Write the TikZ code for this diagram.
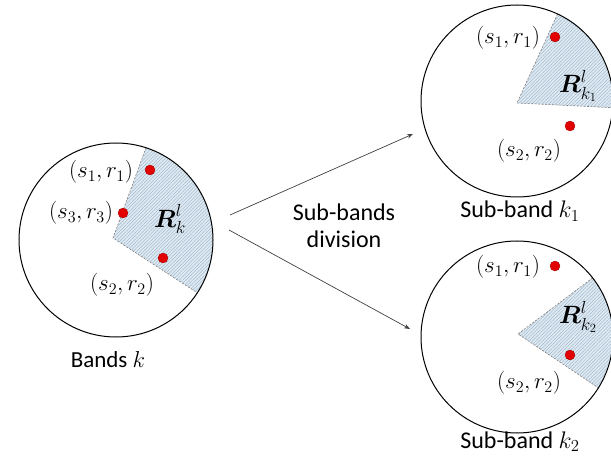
\RequirePackage{fix-cm}
\documentclass[tikz,border=0pt]{standalone}
\usepackage{amsmath}
\usepackage{fontspec}
\setmainfont{Carlito}
\usetikzlibrary{arrows.meta,patterns.meta,calc}
\definecolor{hatchbg}{RGB}{222,234,243}
\definecolor{hatchln}{RGB}{150,172,194}
\definecolor{dotred}{RGB}{226,0,0}
\definecolor{dotrim}{RGB}{150,0,0}
\begin{document}
\begin{tikzpicture}[x=1pt,y=1pt,
  band/.style={circle, draw=black, line width=1pt, minimum size=192pt, inner sep=0pt},
  sector/.style={pattern={Lines[angle=45,distance=2.4pt,line width=0.35pt]}, pattern color=hatchln, preaction={fill=hatchbg}},
  radial/.style={draw=gray, line width=0.6pt, dash pattern=on 2pt off 1.5pt},
  reddot/.style={circle, fill=dotred, draw=dotrim, line width=0.3pt, minimum size=10pt, inner sep=0pt},
  mlab/.style={font=\fontsize{23}{27}\selectfont, inner sep=0pt},
  rlab/.style={font=\fontsize{25}{29}\selectfont, inner sep=0pt},
  tlab/.style={font=\fontsize{24}{27}\selectfont, inner sep=0pt, align=center},
  arr/.style={draw=black!75, line width=0.7pt, -{Stealth[length=6pt,width=4.5pt]}}]
\clip (0,0) rectangle (611,456);
% ---------- left band ----------
\coordinate (cL) at (116,216);
\coordinate (pL) at (113,218);
\path[sector] (pL) -- ($(cL)+(72:97)$) arc[start angle=72,end angle=-33,radius=97] -- cycle;
\draw[radial] ($(cL)+(72:97)$) -- (pL) -- ($(cL)+(-33:97)$);
\node[band, minimum size=194pt] (L) at (cL) {};
\node[mlab] (L1) at (101,284) {$(s_1,r_1)$};
\node[reddot] (Ld1) at (150,286) {};
\node[mlab] (L3) at (81,243) {$(s_3,r_3)$};
\node[reddot] (Ld3) at (123,243) {};
\node[rlab] (LR) at (170,237) {$\boldsymbol{R}_k^l$};
\node[reddot] (Ld2) at (163,198) {};
\node[mlab] (L2) at (122,171) {$(s_2,r_2)$};
\node[mlab, anchor=base] (Lt) at (108,89) {Bands $k$};
% ---------- top right band ----------
\coordinate (cA) at (517,355);
\coordinate (pA) at (517,353);
\path[sector] (pA) -- ($(cA)+(65:96)$) arc[start angle=65,end angle=-4,radius=96] -- cycle;
\draw[radial] ($(cA)+(65:96)$) -- (pA) -- ($(cA)+(-4:96)$);
\node[band] (A) at (cA) {};
\node[mlab] (A1) at (508,418) {$(s_1,r_1)$};
\node[reddot] (Ad1) at (555,419) {};
\node[rlab] (AR) at (578,370) {$\boldsymbol{R}_{k_1}^l$};
\node[reddot] (Ad2) at (570,330) {};
\node[mlab] (A2) at (529,305) {$(s_2,r_2)$};
\node[tlab, anchor=base] (At) at (520,238) {Sub-band $k_1$};
% ---------- bottom right band ----------
\coordinate (cB) at (517,119);
\coordinate (pB) at (518,122);
\path[sector] (pB) -- ($(cB)+(38:96)$) arc[start angle=38,end angle=-32,radius=96] -- cycle;
\draw[radial] ($(cB)+(38:96)$) -- (pB) -- ($(cB)+(-32:96)$);
\node[band] (B) at (cB) {};
\node[mlab] (B1) at (508,189) {$(s_1,r_1)$};
\node[reddot] (Bd1) at (555,190) {};
\node[rlab] (BR) at (578,139) {$\boldsymbol{R}_{k_2}^l$};
\node[reddot] (Bd2) at (570,101) {};
\node[mlab] (B2) at (529,73) {$(s_2,r_2)$};
\node[tlab, anchor=base] (Bt) at (520,8) {Sub-band $k_2$};
% ---------- arrows ----------
\coordinate (a0) at (230,241);
\coordinate (a1) at (413,322);
\coordinate (b0) at (229,226);
\coordinate (b1) at (410,127);
\draw[arr] (a0) -- (a1);
\draw[arr] (b0) -- (b1);
\node[tlab] (D) at (344,230) {Sub-bands\\division};
\end{tikzpicture}
\end{document}
